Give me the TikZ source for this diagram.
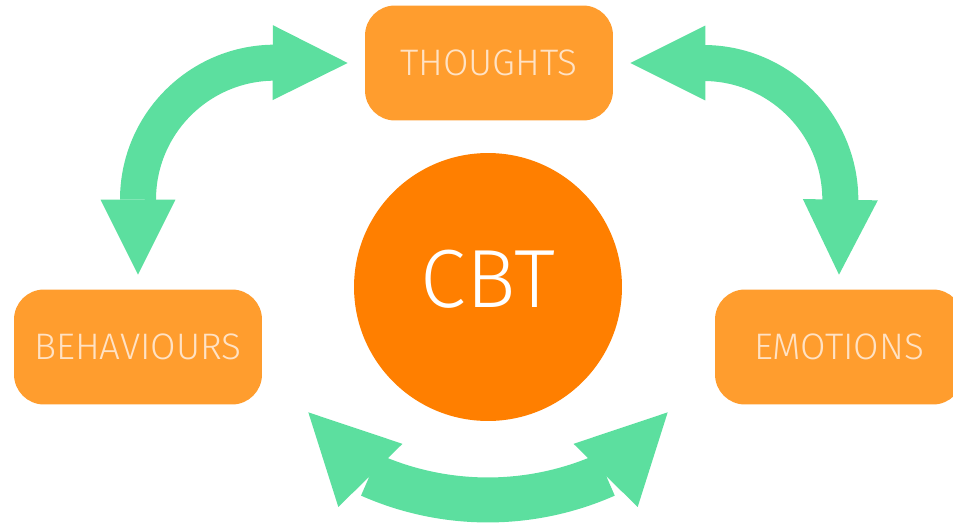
\documentclass[tikz,border=0pt]{standalone}
\usepackage{fontspec}
\setmainfont{Fira Sans Light}
\usetikzlibrary{shapes,arrows.meta}
\definecolor{boxorange}{RGB}{255,157,46}
\definecolor{huborange}{RGB}{255,127,0}
\definecolor{loopgreen}{RGB}{92,223,159}
\definecolor{labelpeach}{RGB}{255,226,196}
\tikzstyle{r} = [rectangle, rounded corners=6mm, minimum width=49.6mm, minimum height=23mm, text centered, fill=boxorange, text=labelpeach, font=\fontsize{21}{21}\selectfont]
\tikzstyle{hub} = [circle, minimum size=53.6mm, fill=huborange, text=white, text depth=3.2mm, font=\fontsize{47}{47}\selectfont]
\tikzstyle{cyc} = [draw=loopgreen, line width=7.2mm, {Triangle[length=15mm,width=15mm,line width=0pt]}-{Triangle[length=15mm,width=15mm,line width=0pt]}]
\tikzstyle{cycwide} = [draw=loopgreen, line width=9mm, -{Triangle[length=17.7mm,width=18mm,line width=0pt]}]

\begin{document}
\begin{tikzpicture}[x=0.02cm, y=0.02cm]
		\useasboundingbox (0,0) rectangle (953,525);
		\node[r](thoughts) at (489,462){THOUGHTS};
		\node[r](behaviours) at (138,178){BEHAVIOURS};
		\node[r](emotions) at (839,178){EMOTIONS};
		\node[hub](cbt) at (488,238){CBT};
		
		\draw[cyc]([yshift=2.9mm]behaviours.north)--++(0,75) arc(180:90:137)--([xshift=-3.4mm]thoughts.west);
		\draw[cyc]([xshift=3.4mm]thoughts.east)--++(73,0) arc(90:0:137)--([yshift=2.9mm]emotions.north);
		
		% bottom loop: bent shaft, heads turned outwards
		\coordinate (bl) at ([shift={(9.2mm,-1.5mm)}]behaviours.south east);
		\coordinate (br) at ([shift={(-9.4mm,-1.5mm)}]emotions.south west);
		\draw[cycwide,-](370,50) arc(246.1:293.9:291);
		\draw[cycwide](370,50)--(bl);
		\draw[cycwide](606,50)--(br);
	\end{tikzpicture}
\end{document}
